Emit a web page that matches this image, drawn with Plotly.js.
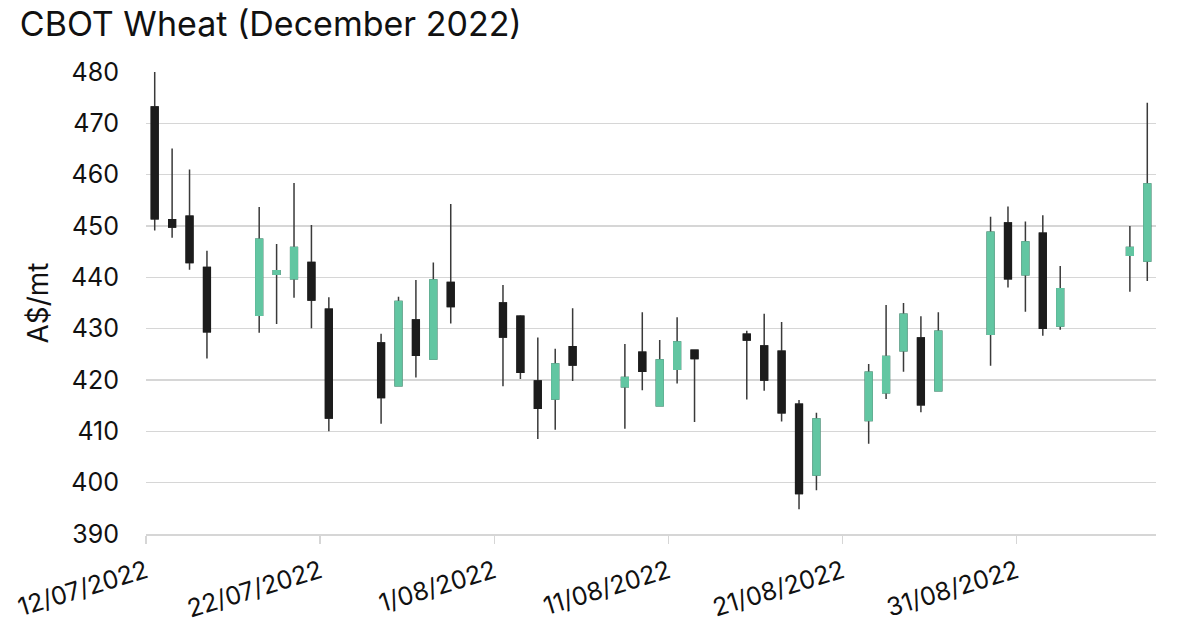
<!DOCTYPE html>
<html>
<head>
<meta charset="utf-8">
<script src="https://cdn.plot.ly/plotly-3.0.1.min.js"></script>
<style>html,body{margin:0;padding:0;background:#fff;}#chart{width:1200px;height:630px;}</style>
</head>
<body>
<div id="chart"></div>
<script>
const dates = [
  '2022-07-12','2022-07-13','2022-07-14','2022-07-15',
  '2022-07-18','2022-07-19','2022-07-20','2022-07-21','2022-07-22',
  '2022-07-25','2022-07-26','2022-07-27','2022-07-28','2022-07-29',
  '2022-08-01','2022-08-02','2022-08-03','2022-08-04','2022-08-05',
  '2022-08-08','2022-08-09','2022-08-10','2022-08-11','2022-08-12',
  '2022-08-15','2022-08-16','2022-08-17','2022-08-18','2022-08-19',
  '2022-08-22','2022-08-23','2022-08-24','2022-08-25','2022-08-26',
  '2022-08-29','2022-08-30','2022-08-31','2022-09-01','2022-09-02',
  '2022-09-06','2022-09-07'
];
const opens = [
  473.2,451.2,451.9,441.9,
  432.6,440.6,439.7,442.9,433.8,
  427.2,418.9,431.7,424.1,439.0,
  435.0,432.4,419.8,416.3,426.5,
  418.7,425.4,415.0,422.1,425.8,
  428.9,426.6,425.6,415.3,401.5,
  412.1,417.5,425.7,428.2,417.9,
  428.9,450.6,440.5,448.6,430.5,
  444.3,443.2
];
const highs = [
  480.0,465.1,461.0,445.2,
  453.7,446.5,458.4,450.2,436.1,
  429.0,436.2,439.5,442.9,454.3,
  438.5,432.6,428.3,426.1,434.0,
  427.0,433.2,427.8,432.2,425.8,
  429.6,432.9,431.3,416.1,413.6,
  423.1,434.6,435.0,432.4,433.2,
  451.8,453.8,450.9,452.1,442.2,
  450.0,474.0
];
const lows = [
  449.1,447.7,441.5,424.2,
  429.2,430.9,436.0,430.1,410.0,
  411.5,418.9,420.5,424.1,431.0,
  418.8,420.2,408.5,410.3,419.8,
  410.5,418.0,415.0,419.3,411.8,
  416.2,417.9,411.9,394.8,398.5,
  407.6,416.3,421.6,413.7,417.9,
  422.8,438.0,433.3,428.6,429.8,
  437.2,439.3
];
const closes = [
  451.4,449.8,442.9,429.4,
  447.4,441.3,445.8,435.6,412.6,
  416.6,435.3,424.8,439.5,434.3,
  428.4,421.5,414.5,423.1,422.9,
  420.5,421.7,423.9,427.4,424.2,
  427.8,420.0,413.6,397.9,412.4,
  421.5,424.6,432.8,415.2,429.5,
  448.8,439.7,446.9,430.1,437.8,
  445.8,458.2
];

const GREEN = '#62c6a2';
const DARK = '#1c1c1c';
const WICK = '#3a3a3a';
const FONT = 'Inter, "Noto Sans", sans-serif';

const bodyHigh = opens.map((o, i) => Math.max(o, closes[i]));
const bodyLow = opens.map((o, i) => Math.min(o, closes[i]));

const DAY = 86400000;

const wicks = {
  type: 'candlestick',
  x: dates, open: opens, high: highs, low: lows, close: closes,
  xperiod: DAY, xperiodalignment: 'middle',
  increasing: {line: {color: WICK, width: 1.5}, fillcolor: GREEN},
  decreasing: {line: {color: WICK, width: 1.5}, fillcolor: DARK},
  whiskerwidth: 0,
  hoverinfo: 'skip',
  showlegend: false
};
const bodies = {
  type: 'candlestick',
  x: dates, open: opens, high: bodyHigh, low: bodyLow, close: closes,
  xperiod: DAY, xperiodalignment: 'middle',
  increasing: {line: {color: GREEN, width: 1.5}, fillcolor: GREEN},
  decreasing: {line: {color: DARK, width: 1.5}, fillcolor: DARK},
  whiskerwidth: 0,
  hoverinfo: 'skip',
  showlegend: false
};

const layout = {
  width: 1200, height: 630,
  paper_bgcolor: '#ffffff', plot_bgcolor: '#ffffff',
  margin: {l: 146, r: 44, t: 72, b: 96},
  font: {family: FONT, color: '#111111'},
  boxgap: 0.45,
  title: {
    text: 'CBOT Wheat (December 2022)',
    font: {family: FONT, size: 34, color: '#111111'},
    x: 0.0165, xanchor: 'left', xref: 'container',
    y: 0.962, yanchor: 'middle', yref: 'container'
  },
  xaxis: {
    type: 'date',
    range: ['2022-07-12', '2022-09-08'],
    tick0: '2022-07-12', dtick: 10 * DAY,
    tickformat: '%-d/%m/%Y',
    tickangle: -17,
    tickfont: {family: FONT, size: 25, color: '#111111'},
    ticks: 'outside', ticklen: 8, tickcolor: '#d6d6d6', tickwidth: 1.5,
    ticklabelstandoff: 4,
    showgrid: false,
    showline: true, linecolor: '#d6d6d6', linewidth: 1.5,
    zeroline: false,
    rangeslider: {visible: false},
    fixedrange: true
  },
  yaxis: {
    range: [390, 480],
    dtick: 10, tick0: 390,
    tickfont: {family: FONT, size: 25, color: '#111111'},
    ticks: '', ticklabelstandoff: 26,
    showgrid: true, gridcolor: '#d6d6d6', gridwidth: 1.5,
    zeroline: false, showline: false,
    title: {text: 'A$/mt', font: {family: FONT, size: 28, color: '#111111'}, standoff: 14},
    fixedrange: true
  },
  showlegend: false
};

Plotly.newPlot('chart', [wicks, bodies], layout, {displayModeBar: false, staticPlot: true});
</script>
</body>
</html>
